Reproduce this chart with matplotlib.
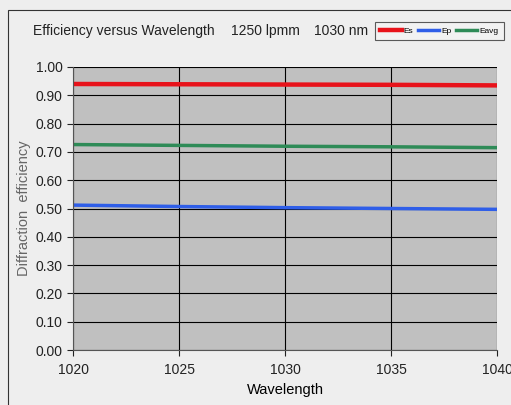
import matplotlib.pyplot as plt

plt.rcParams["font.family"] = ["Liberation Sans", "DejaVu Sans"]

# Data
wavelength = [1020, 1025, 1030, 1035, 1040]
es = [0.940, 0.939, 0.938, 0.937, 0.935]
ep = [0.512, 0.507, 0.503, 0.500, 0.497]
eavg = [0.726, 0.723, 0.720, 0.718, 0.715]

fig = plt.figure(figsize=(5.11, 4.05), dpi=100)
fig.patch.set_facecolor("#eeeeee")

# outer chart frame
fig.patches.append(plt.Rectangle((8 / 511, -0.01), 1.0, 1 - 10 / 405 + 0.01,
                                 transform=fig.transFigure, fill=False,
                                 edgecolor="#333333", linewidth=0.8))

ax = fig.add_axes([73 / 511, 1 - 350 / 405, (497 - 73) / 511, (350 - 67) / 405])
ax.set_facecolor("#c0c0c0")

ax.plot(wavelength, es, color="#e8121a", linewidth=3.2, label="Es")
ax.plot(wavelength, ep, color="#2f5ee8", linewidth=2.5, label="Ep")
ax.plot(wavelength, eavg, color="#2e8b57", linewidth=2.5, label="Eavg")

ax.set_xlim(1020, 1040)
ax.set_ylim(0, 1.0)
ax.set_xticks([1020, 1025, 1030, 1035, 1040])
ax.set_yticks([i / 10 for i in range(11)])
ax.set_yticklabels([f"{i / 10:.2f}" for i in range(11)])
ax.grid(True, color="black", linewidth=0.8)
ax.set_axisbelow(True)
for s in ["top", "right"]:
    ax.spines[s].set_visible(False)
ax.spines["left"].set_color("#555555")
ax.spines["bottom"].set_color("#555555")
ax.tick_params(labelsize=10, length=4, colors="#222222")
ax.tick_params(axis="x", pad=5)

ax.set_xlabel("Wavelength", fontsize=10.5, labelpad=5)
ax.set_ylabel("Diffraction  efficiency", fontsize=10.5, color="#666666", labelpad=3)

title_y = 1 - 31 / 405
fig.text(33 / 511, title_y, "Efficiency versus Wavelength", fontsize=10,
         va="center", ha="left", color="#222222")
fig.text(231 / 511, title_y, "1250 lpmm", fontsize=10,
         va="center", ha="left", color="#222222")
fig.text(314 / 511, title_y, "1030 nm", fontsize=10,
         va="center", ha="left", color="#222222")

leg = ax.legend(loc="upper left", bbox_to_anchor=(375 / 511, 1 - 22 / 405),
                bbox_transform=fig.transFigure, ncol=3, fontsize=6,
                frameon=True, fancybox=False, handlelength=2.6,
                columnspacing=0.5, handletextpad=0.25, borderpad=0.6,
                borderaxespad=0)
leg.get_frame().set_edgecolor("#333333")
leg.get_frame().set_facecolor("#f4f4f4")
leg.get_frame().set_linewidth(0.8)

fig.savefig("out.png", dpi=100, facecolor=fig.get_facecolor())
